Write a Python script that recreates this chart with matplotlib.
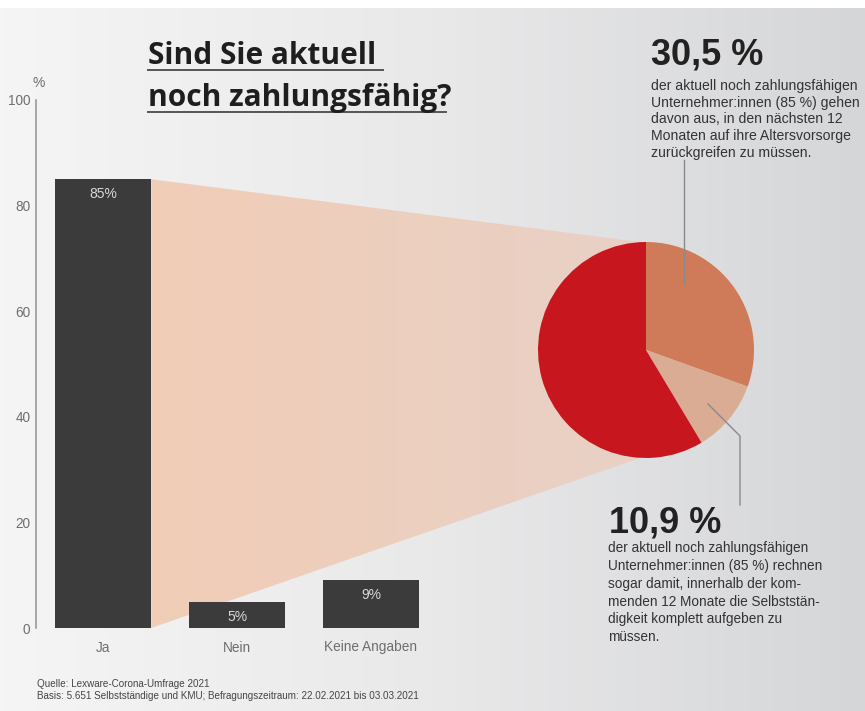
import matplotlib
matplotlib.use('Agg')
import matplotlib.pyplot as plt
import numpy as np
from matplotlib.patches import Polygon

plt.rcParams['font.family'] = ['Liberation Sans', 'DejaVu Sans']

# data
categories = ['Ja', 'Nein', 'Keine Angaben']
values = [85, 5, 9]
bar_labels = ['85%', '5%', '9%']
pie_values = [30.5, 10.9, 100 - 30.5 - 10.9]
pie_colors = ['#CF7A58', '#D9AC93', '#C8161E']
yticks = [0, 20, 40, 60, 80, 100]

title_lines = ['Sind Sie aktuell', 'noch zahlungsfähig?']
text_top_big = '30,5 %'
text_top = ('der aktuell noch zahlungsfähigen\nUnternehmer:innen (85 %) gehen\n'
            'davon aus, in den nächsten 12\nMonaten auf ihre Altersvorsorge\n'
            'zurückgreifen zu müssen.')
text_bot_big = '10,9 %'
text_bot = ('der aktuell noch zahlungsfähigen\nUnternehmer:innen (85 %) rechnen\n'
            'sogar damit, innerhalb der kom-\nmenden 12 Monate die Selbststän-\n'
            'digkeit komplett aufgeben zu\nmüssen.')
source = ('Quelle: Lexware-Corona-Umfrage 2021\n'
          'Basis: 5.651 Selbstständige und KMU; Befragungszeitraum: 22.02.2021 bis 03.03.2021')

W, H = 865, 711
fig = plt.figure(figsize=(W / 100, H / 100), dpi=100)
fig.patch.set_facecolor('white')

# background gradient (pixel coordinates)
bg = fig.add_axes([0, 0, 1, 1], zorder=0)
grad = np.linspace(0, 1, 256)[None, :]
bg.imshow(grad, extent=[0, W, H, 8], aspect='auto',
          cmap=matplotlib.colors.LinearSegmentedColormap.from_list('bg', ['#F5F5F5', '#E9E9EA', '#D5D6D8']))
bg.set_xlim(0, W)
bg.set_ylim(H, 0)
bg.axis('off')

# bar chart
x0 = 36
spacing = 134
ax = fig.add_axes([x0 / W, (H - 628) / H, 3.485 * spacing / W, 528 / H], zorder=2)
ax.patch.set_alpha(0)
xs = np.arange(len(categories))
bars = ax.bar(xs, values, width=0.72, color='#3B3B3B')
ax.set_xlim(-0.5, 2.985)
ax.set_ylim(0, 100)
ax.set_yticks(yticks)
ax.set_xticks(xs)
ax.set_xticklabels(categories)
for s in ['top', 'right', 'bottom']:
    ax.spines[s].set_visible(False)
ax.spines['left'].set_color('#999999')
ax.spines['left'].set_linewidth(1.2)
ax.tick_params(axis='both', length=0, colors='#6E6E6E', labelsize=9.8)
ax.tick_params(axis='y', pad=4)
ax.tick_params(axis='x', pad=9)
for b, lab in zip(bars, bar_labels):
    ax.text(b.get_x() + b.get_width() / 2, b.get_height() - 1.5, lab, ha='center', va='top',
            color='#D8D8D8', fontsize=10)
ax.text(-0.48, 101.8, '%', ha='center', va='bottom', color='#6E6E6E', fontsize=10)

# pie
cx, cy, r = 646, 350, 108
axp = fig.add_axes([(cx - r) / W, (H - cy - r) / H, 2 * r / W, 2 * r / H], zorder=3)
axp.pie(pie_values, colors=pie_colors, startangle=90, counterclock=False,
        radius=1, wedgeprops=dict(linewidth=0))
axp.set_xlim(-1, 1)
axp.set_ylim(-1, 1)
axp.axis('off')

# funnel from Ja bar to pie
fig.canvas.draw()
inv = bg.transData.inverted()
ja = bars[0]
p_top = inv.transform(ax.transData.transform((ja.get_x() + ja.get_width(), ja.get_height())))
p_bot = inv.transform(ax.transData.transform((ja.get_x() + ja.get_width(), 0)))
funnel = Polygon([p_top, (cx - 6, cy - r), (cx - 6, cy + r), p_bot], closed=True,
                 facecolor='none', edgecolor='none')
bg.add_patch(funnel)
fgrad = bg.imshow(grad, extent=[p_top[0], cx, H, 0], aspect='auto', zorder=1,
                  cmap=matplotlib.colors.LinearSegmentedColormap.from_list('fn', ['#F1CDB7', '#E8D1C6']))
fgrad.set_clip_path(funnel)
bg.set_xlim(0, W)
bg.set_ylim(H, 0)

# leader lines and texts (overlay above pie)
ov = fig.add_axes([0, 0, 1, 1], zorder=4)
ov.set_xlim(0, W)
ov.set_ylim(H, 0)
ov.axis('off')
ov.plot([684, 684], [160, 284], color='#8A8A8A', lw=1)
ov.plot([708, 740, 740], [404, 436, 505], color='#8A8A8A', lw=1)

for i, line in enumerate(title_lines):
    yb = 64 + 42 * i
    ov.text(148, yb, line, fontsize=21.5, fontweight='bold', family=['Open Sans', 'DejaVu Sans'],
            color='#1E1E1E', va='baseline', ha='left')
ov.plot([148, 383], [70, 70], color='#555555', lw=1.4)
ov.plot([148, 446], [112, 112], color='#555555', lw=1.4)

ov.text(651, 65, text_top_big, fontsize=26, fontweight='bold', color='#222222', va='baseline')
ov.text(651, 79, text_top, fontsize=10.1, color='#333333', va='top', linespacing=1.24)
ov.text(609, 532, text_bot_big, fontsize=26, fontweight='bold', color='#222222', va='baseline')
ov.text(608, 541, text_bot, fontsize=9.8, color='#333333', va='top', linespacing=1.35)

ov.text(37, 679, source, fontsize=7.1, color='#444444', va='top', linespacing=1.2)

fig.savefig('out.png', dpi=100)
